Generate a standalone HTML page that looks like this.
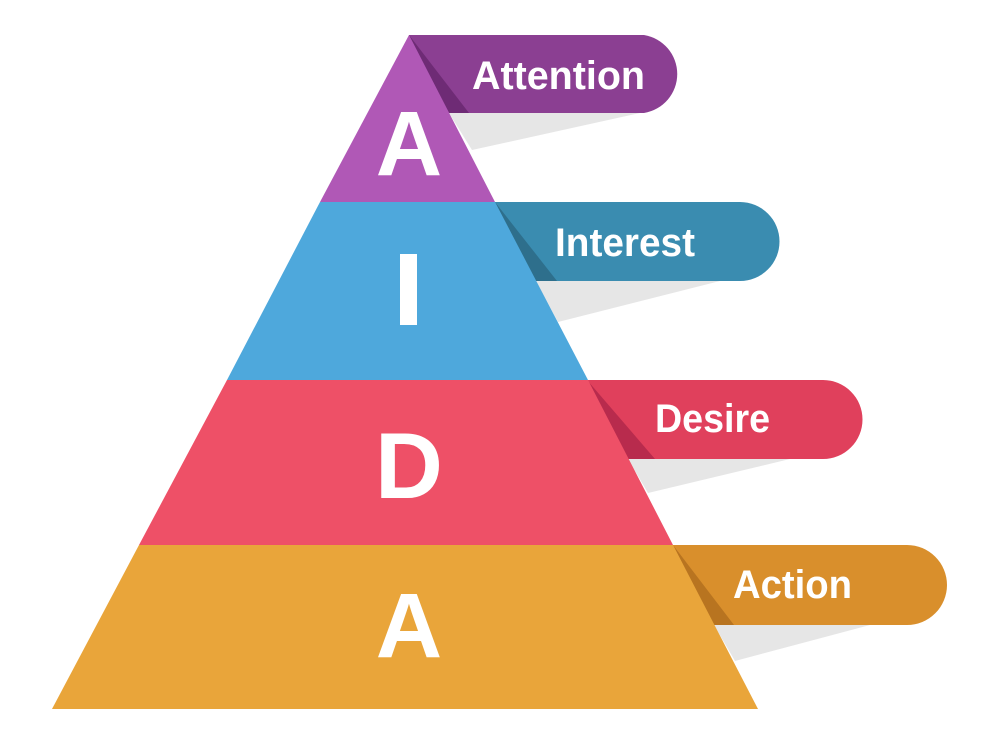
<!DOCTYPE html>
<html><head><meta charset="utf-8"><style>html,body{margin:0;padding:0;background:#fff}svg{display:block}</style></head>
<body>
<svg width="1001" height="745" viewBox="0 0 1001 745" xmlns="http://www.w3.org/2000/svg" font-family="'Liberation Sans', sans-serif" font-weight="bold" fill="#fff">
<!-- shadows -->
<polygon points="449,113 640,113 472,150" fill="#e6e6e6"/>
<polygon points="536,281 720,281 558,322" fill="#e6e6e6"/>
<polygon points="628,459 790,459 648,493" fill="#e6e6e6"/>
<polygon points="714,625 870,625 735,661" fill="#e6e6e6"/>
<!-- tabs -->
<path d="M409,35 H644 A39.5,39.5 0 0 1 644,113 H409 Z" fill="#8b3f92"/>
<path d="M495,202 H740 A39.5,39.5 0 0 1 740,281 H495 Z" fill="#3a8cb0"/>
<path d="M587,380 H823 A39.5,39.5 0 0 1 823,459 H587 Z" fill="#e0405c"/>
<path d="M673,545 H907 A40,40 0 0 1 907,625 H673 Z" fill="#d98f2c"/>
<!-- folds -->
<polygon points="409,35 469,113 449,113" fill="#6e2b75"/>
<polygon points="495,202 557,281 536,281" fill="#2e6f8c"/>
<polygon points="587,380 655,459 628,459" fill="#b82b4d"/>
<polygon points="673,545 734,625 714,625" fill="#b87420"/>
<!-- pyramid -->
<polygon points="409,35 495,202 320,202" fill="#b058b6"/>
<polygon points="320,202 495,202 588,380 227,380" fill="#4ea8dc"/>
<polygon points="227,380 588,380 673,545 139,545" fill="#ee5067"/>
<polygon points="139,545 673,545 758,709 52,709" fill="#e9a53a"/>
<!-- letters -->
<text x="409" y="175" font-size="92" text-anchor="middle">A</text>
<rect x="400" y="254" width="17" height="71"/>
<text x="409" y="498" font-size="94" text-anchor="middle">D</text>
<text x="409" y="657" font-size="92" text-anchor="middle">A</text>
<!-- tab labels -->
<text x="472" y="89" font-size="40" textLength="173" lengthAdjust="spacingAndGlyphs">Attention</text>
<text x="555" y="256" font-size="40" textLength="140" lengthAdjust="spacingAndGlyphs">Interest</text>
<text x="655" y="432" font-size="40" textLength="115" lengthAdjust="spacingAndGlyphs">Desire</text>
<text x="733" y="598" font-size="40" textLength="119" lengthAdjust="spacingAndGlyphs">Action</text>
</svg>
</body></html>
